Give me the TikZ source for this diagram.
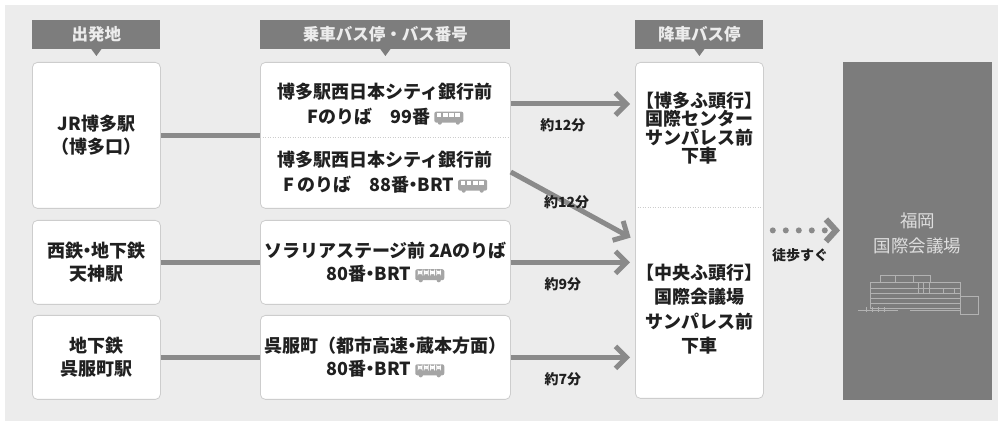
\documentclass[tikz,border=0pt]{standalone}
\usepackage{fontspec}
\setmainfont{Noto Sans CJK JP}
\usepackage{tikz}
\usetikzlibrary{positioning,arrows.meta,calc}
\definecolor{panelbg}{RGB}{236,236,236}
\definecolor{tabgray}{RGB}{125,125,125}
\definecolor{tabtext}{RGB}{236,236,236}
\definecolor{boxline}{RGB}{205,205,205}
\definecolor{routegray}{RGB}{138,138,138}
\definecolor{venuegray}{RGB}{124,124,124}
\definecolor{venuetext}{RGB}{222,222,222}
\definecolor{bldline}{RGB}{178,178,178}
\definecolor{inkdark}{RGB}{32,32,32}
\definecolor{busgray}{RGB}{165,165,165}
\tikzset{
  tab/.style={fill=tabgray, text=tabtext, inner sep=0pt, minimum height=29pt,
              font=\fontsize{16.5}{17}\selectfont\bfseries},
  stop/.style={draw=boxline, fill=white, line width=0.8pt, rounded corners=5pt,
               inner sep=0pt, anchor=north west, align=center, text=inkdark,
               font=\fontsize{18}{23}\selectfont\bfseries},
  stoptxt/.style={align=center, text=inkdark, inner sep=0pt,
                  font=\fontsize{18}{24.5}\selectfont\bfseries},
  split/.style={boxline, line width=0.8pt, dash pattern=on 1pt off 1.5pt},
  link/.style={routegray, line width=5pt},
  ride/.style={link, -{Straight Barb[length=11pt,width=22pt]}, shorten >=5pt},
  mins/.style={font=\fontsize{14}{14}\selectfont\bfseries, text=inkdark, inner sep=1pt},
  walk/.style={routegray, line width=6pt, line cap=round, dash pattern=on 0pt off 13pt,
               -{Straight Barb[length=10pt,width=22pt]}, shorten <=9pt, shorten >=3pt},
  venue/.style={fill=venuegray, anchor=north west, inner sep=0pt},
  venuetxt/.style={text=venuetext, align=center, inner sep=0pt,
                   font=\fontsize{17.5}{25}\selectfont},
  bld/.style={draw=bldline, line width=0.7pt}
}
% narrow middle dot
\newcommand\nk{\makebox[0.46em]{・}}
% little bus after the route number
\newcommand\busicon{\tikz[x=1pt,y=1pt,baseline=1pt]{%
  \fill[busgray,rounded corners=2pt] (0,1.5) rectangle (29,12.5);
  \foreach \i in {0,...,3} \fill[white] (2.5+6.2*\i,7.6) rectangle +(4.6,3.2);
  \fill[busgray] (5.5,1.5) circle (2.1) (23.5,1.5) circle (2.1);}}

\begin{document}
\begin{tikzpicture}[x=1pt, y=-1pt]
\useasboundingbox (0,0) rectangle (1005,427);
\fill[white] (0,0) rectangle (1005,427);
\fill[panelbg] (5,5) rectangle (998,421);

% departure points
\node[stop, minimum width=128pt, minimum height=146pt] (jr) at (32,62) {JR博多駅\\（博多口）};
\node[stop, minimum width=128pt, minimum height=84pt] (tj) at (32,220) {西鉄\nk{}地下鉄\\天神駅};
\node[stop, minimum width=128pt, minimum height=84pt] (gf) at (32,315) {地下鉄\\呉服町駅};

% boarding stops
\node[stop, minimum width=250pt, minimum height=146pt] (hk) at (260,62) {};
\node[stoptxt] (hk1) at ($(hk.north)+(0,42)$) {博多駅西日本シティ銀行前\\Fのりば\quad 99番 \busicon};
\node[stoptxt] (hk2) at ($(hk.north)+(0,110)$) {博多駅西日本シティ銀行前\\F\,のりば\quad 88番\nk{}BRT \busicon};
\draw[split] ($(hk.west)+(0,2)$) -- ($(hk.east)+(0,2)$);
\node[stop, minimum width=250pt, minimum height=84pt] (sr) at (260,220) {ソラリアステージ前 2Aのりば\\80番\nk{}BRT \busicon};
\node[stop, minimum width=250pt, minimum height=84pt] (gfb) at (260,315) {呉服町（都市高速\nk{}蔵本方面）\\80番\nk{}BRT \busicon};

% alighting stop
\node[stop, minimum width=128pt, minimum height=336pt] (gs) at (635,62) {};
\node[stoptxt, font=\fontsize{18}{18.5}\selectfont\bfseries] (gs1) at ($(gs.north)+(0,66)$) {【博多ふ頭行】\\国際センター\\サンパレス前\\下車};
\node[stoptxt] (gs2) at ($(gs.north)+(0,247)$) {【中央ふ頭行】\\国際会議場\\サンパレス前\\下車};
\draw[split] ($(gs.north west)+(0,145)$) -- ($(gs.north east)+(0,145)$);

% destination
\node[venue, minimum width=149pt, minimum height=338pt] (fk) at (843,62) {};
\node[venuetxt] (fkt) at ($(fk.north)+(0,171)$) {福岡\\国際会議場};

% column heads
\node[tab, minimum width=128pt, above=13pt of jr] (t1) {出発地};
\node[tab, minimum width=250pt, above=13pt of hk] (t2) {乗車バス停・バス番号};
\node[tab, minimum width=128pt, above=13pt of gs] (t3) {降車バス停};
\foreach \t in {t1,t2,t3}
  \fill[tabgray] ($(\t.south)+(-5.5,-0.5)$) -- ($(\t.south)+(5.5,-0.5)$) -- ($(\t.south)+(0,7)$) -- cycle;

% walk to the stop
\draw[link] (jr) -- (hk);
\draw[link] (tj) -- (sr);
\draw[link] (gf) -- (gfb);

% bus rides
\draw[ride] (hk1.east -| hk.east) -- (hk1.east -| gs.west) node[mins, below=11pt, pos=0.42] (m1) {約12分};
\draw[ride] (hk2.east -| hk.east) -- ($(gs.north west)+(0,178)$) node[mins, pos=0.45] (m2) {約12分};
\draw[ride] (sr) -- (sr -| gs.west) node[mins, below=12pt, pos=0.42] (m3) {約9分};
\draw[ride] (gfb) -- (gfb -| gs.west) node[mins, below=12pt, pos=0.42] (m4) {約7分};
\draw[walk] (gs.east) -- (gs.east -| fk.west) node[mins, below=14pt, pos=0.46] (wk) {徒歩すぐ};

% building sketch
\begin{scope}[shift={($(fk.north west)+(15,212)$)}, bld]
  \draw (12,8) rectangle (102,34);
  \foreach \y in {14,19,24,29} \draw (12,\y) -- (102,\y);
  \draw (22,8) -- (22,1) -- (72,1) -- (72,8);
  \draw (37,1) -- (37,8) (55,1) -- (55,8);
  \foreach \x in {60,65,71} \draw (\x,8) -- (\x,19);
  \draw (85,14) rectangle (96,19);
  \draw (102,22) rectangle (120,40);
  \draw (0,36) -- (40,36) (52,36) -- (102,36);
  \foreach \x in {8,14,20,26} \draw (\x,33) -- (\x,38);
\end{scope}
\end{tikzpicture}
\end{document}
